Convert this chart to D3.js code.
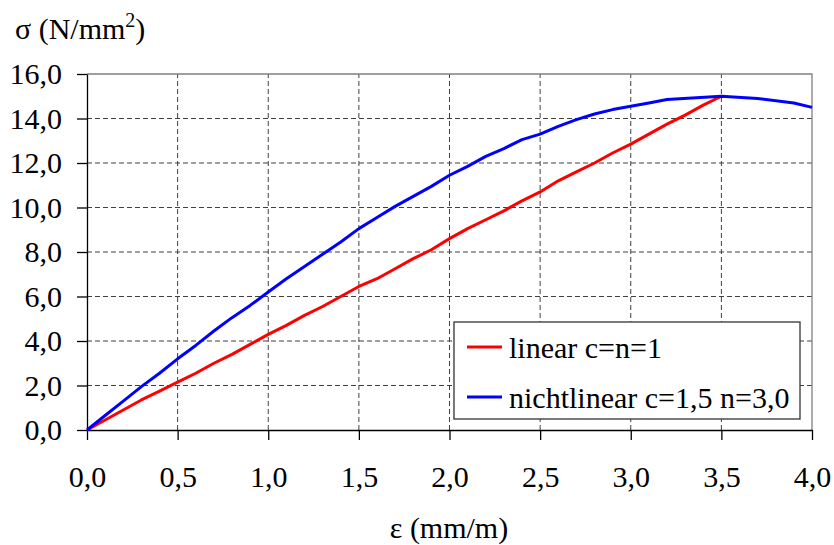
<!DOCTYPE html>
<meta charset="utf-8">
<style>
    body { margin: 0; background: #fff; }
    svg, svg text { font-family: "Liberation Serif", Tinos, "Times New Roman", serif !important; }
    .grid line { stroke: #404040; stroke-width: 1; stroke-dasharray: 5,3; }
    .axis path, .axis line { stroke: #000; stroke-width: 1.3; }
</style>
<svg width="834" height="545"></svg>
<script src="https://d3js.org/d3.v7.min.js"></script>
<script>

    var xTicks = [0, 0.5, 1.0, 1.5, 2.0, 2.5, 3.0, 3.5, 4.0];
    var yTicks = [0, 2, 4, 6, 8, 10, 12, 14, 16];

    // linear c=n=1
    var epsLinear = [0, 0.1, 0.2, 0.3, 0.4, 0.5, 0.6, 0.7, 0.8, 0.9, 1.0, 1.1, 1.2, 1.3, 1.4, 1.5, 1.6, 1.7,
        1.8, 1.9, 2.0, 2.1, 2.2, 2.3, 2.4, 2.5, 2.6, 2.7, 2.8, 2.9, 3.0, 3.1, 3.2, 3.3, 3.4, 3.5];
    var sigLinear = [0, 0.45, 0.9, 1.35, 1.75, 2.15, 2.55, 3.0, 3.4, 3.85, 4.3, 4.7, 5.15, 5.55, 6.0, 6.45, 6.8, 7.25,
        7.7, 8.1, 8.6, 9.05, 9.45, 9.85, 10.3, 10.7, 11.2, 11.6, 12.0, 12.45, 12.85, 13.3, 13.75, 14.15, 14.6, 15.0];

    // nichtlinear c=1,5 n=3,0
    var epsNonlin = [0, 0.1, 0.2, 0.3, 0.4, 0.5, 0.6, 0.7, 0.8, 0.9, 1.0, 1.1, 1.2, 1.3, 1.4, 1.5, 1.6, 1.7,
        1.8, 1.9, 2.0, 2.1, 2.2, 2.3, 2.4, 2.5, 2.6, 2.7, 2.8, 2.9, 3.0, 3.1, 3.2, 3.5, 3.7, 3.9, 4.0];
    var sigNonlin = [0, 0.65, 1.3, 1.95, 2.55, 3.2, 3.8, 4.45, 5.05, 5.6, 6.2, 6.8, 7.35, 7.9, 8.45, 9.05, 9.55, 10.05,
        10.5, 10.95, 11.45, 11.85, 12.3, 12.65, 13.05, 13.3, 13.65, 13.95, 14.2, 14.4, 14.55, 14.7, 14.85, 15.0, 14.9, 14.7, 14.5];

    var seriesNames = ["linear c=n=1", "nichtlinear c=1,5 n=3,0"];
    var seriesColors = ["#ff0000", "#0000ff"];

    var svg = d3.select("svg");
    var fontSize = 30;

    var x = d3.scaleLinear().domain([0, 4]).range([87, 812]);
    var y = d3.scaleLinear().domain([0, 16]).range([430, 74]);

    var fmt = function(d) { return d3.format(".1f")(d).replace(".", ","); };

    // grid
    var grid = svg.append("g").attr("class", "grid");
    grid.selectAll(".gx").data(xTicks.slice(1, -1)).enter().append("line")
            .attr("x1", function(d) { return x(d); }).attr("x2", function(d) { return x(d); })
            .attr("y1", y(0)).attr("y2", y(16));
    grid.selectAll(".gy").data(yTicks.slice(1, -1)).enter().append("line")
            .attr("y1", function(d) { return y(d); }).attr("y2", function(d) { return y(d); })
            .attr("x1", x(0)).attr("x2", x(4));

    // top and right frame
    svg.append("path")
            .attr("d", "M" + x(0) + "," + y(16) + "H" + x(4) + "V" + y(0))
            .attr("fill", "none").attr("stroke", "#808080").attr("stroke-width", 1.3);

    // axes
    var xAxis = svg.append("g").attr("class", "axis")
            .attr("transform", "translate(0," + y(0) + ")")
            .call(d3.axisBottom(x).tickValues(xTicks).tickFormat(fmt).tickSizeInner(10).tickSizeOuter(0).tickPadding(26));
    xAxis.attr("font-family", null).attr("font-size", fontSize);
    xAxis.selectAll("text").attr("fill", "#000");

    var yAxis = svg.append("g").attr("class", "axis")
            .attr("transform", "translate(" + x(0) + ",0)")
            .call(d3.axisLeft(y).tickValues(yTicks).tickFormat(fmt).tickSizeInner(10).tickSizeOuter(0).tickPadding(15));
    yAxis.attr("font-family", null).attr("font-size", fontSize);
    yAxis.selectAll("text").attr("fill", "#000");

    // lines
    var line = d3.line()
            .x(function(d) { return x(d[0]); })
            .y(function(d) { return y(d[1]); });

    var data = [d3.zip(epsLinear, sigLinear), d3.zip(epsNonlin, sigNonlin)];

    svg.append("g").selectAll("path").data(data).enter().append("path")
            .attr("d", line)
            .attr("fill", "none")
            .attr("stroke", function(d, i) { return seriesColors[i]; })
            .attr("stroke-width", 3)
            .attr("stroke-linejoin", "round");

    // legend
    var legend = svg.append("g");
    legend.append("rect")
            .attr("x", 454).attr("y", 322).attr("width", 346).attr("height", 97)
            .attr("fill", "#fff").attr("stroke", "#333").attr("stroke-width", 1.3);
    var item = legend.selectAll(".item").data(seriesNames).enter().append("g")
            .attr("transform", function(d, i) { return "translate(467," + (347 + i * 50) + ")"; });
    item.append("line")
            .attr("x1", 0).attr("x2", 35)
            .attr("stroke", function(d, i) { return seriesColors[i]; })
            .attr("stroke-width", 3);
    item.append("text")
            .attr("x", 42).attr("dy", 11)
            .attr("font-size", fontSize)
            .text(function(d) { return d; });

    // axis titles
    var yl = svg.append("text").attr("x", 15).attr("y", 39)
            .attr("font-size", fontSize);
    yl.append("tspan").text("σ (N/mm");
    yl.append("tspan").attr("font-size", 20).attr("dy", -12).text("2");
    yl.append("tspan").attr("dy", 12).text(")");

    svg.append("text").attr("x", 449).attr("y", 538).attr("text-anchor", "middle")
            .attr("font-size", fontSize).text("ε (mm/m)");

</script>
